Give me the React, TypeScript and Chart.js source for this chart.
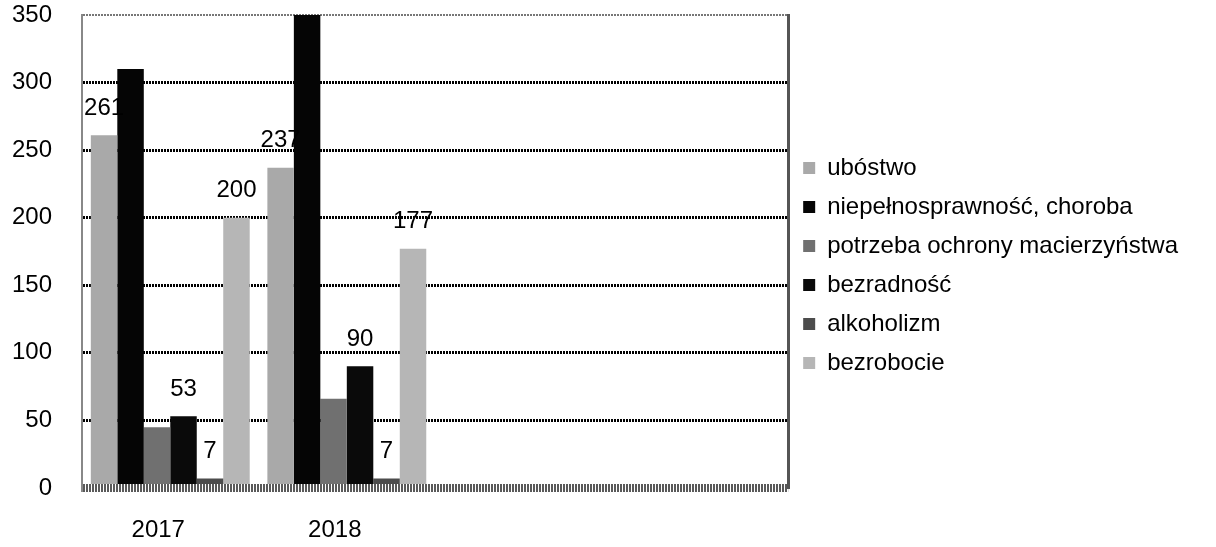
import React, { useEffect, useRef } from "react";
import { Chart, registerables } from "chart.js";

Chart.register(...registerables);

const categories = ["2017", "2018", "", ""];
const seriesNames = [
  "ubóstwo",
  "niepełnosprawność, choroba",
  "potrzeba ochrony macierzyństwa",
  "bezradność",
  "alkoholizm",
  "bezrobocie",
];
const ubostwo = [261, 237, null, null];
const niepelnosprawnosc = [310, 350, null, null];
const macierzynstwo = [45, 66, null, null];
const bezradnosc = [53, 90, null, null];
const alkoholizm = [7, 7, null, null];
const bezrobocie = [200, 177, null, null];
const seriesColors = ["#a9a9a9", "#050505", "#707070", "#0a0a0a", "#4c4c4c", "#b6b6b6"];
const labelledSeries = [true, false, false, true, true, true];
const yTicks = [0, 50, 100, 150, 200, 250, 300, 350];

const FONT = "'Liberation Sans', Arial, sans-serif";

const valueLabels = {
  id: "valueLabels",
  afterDatasetDraw(chart: any, args: any) {
    const i = args.index;
    if (!labelledSeries[i]) return;
    const ctx = chart.ctx;
    const meta = chart.getDatasetMeta(i);
    const data = chart.data.datasets[i].data;
    ctx.save();
    ctx.font = `24px ${FONT}`;
    ctx.fillStyle = "#000";
    ctx.textAlign = "center";
    ctx.textBaseline = "middle";
    meta.data.forEach((el: any, j: number) => {
      const v = data[j];
      if (v === null || v === undefined) return;
      ctx.fillText(String(v), el.x, el.y - 27);
    });
    ctx.restore();
  },
};

export default function App() {
  const ref = useRef<HTMLCanvasElement>(null);
  useEffect(() => {
    if (!ref.current) return;
    const allData = [ubostwo, niepelnosprawnosc, macierzynstwo, bezradnosc, alkoholizm, bezrobocie];
    const chart = new Chart(ref.current, {
      type: "bar",
      data: {
        labels: categories,
        datasets: seriesNames.map((name, i) => ({
          label: name,
          data: allData[i] as any,
          backgroundColor: seriesColors[i],
          borderColor: seriesColors[i],
          borderWidth: 0,
          categoryPercentage: 0.9,
          barPercentage: 1.0,
        })),
      },
      options: {
        responsive: false,
        animation: false,
        layout: { padding: { top: 15, right: 28, bottom: 2, left: 0 } },
        scales: {
          x: {
            grid: { display: false, drawTicks: false },
            border: { display: false },
            afterFit(scale: any) {
              scale.height = 57;
            },
            ticks: {
              font: { family: FONT, size: 24 },
              color: "#000",
              padding: 28,
              labelOffset: -12,
            },
          },
          y: {
            min: 0,
            max: 350,
            afterFit(scale: any) {
              scale.width = 82;
            },
            afterBuildTicks(scale: any) {
              scale.ticks = yTicks.map((v) => ({ value: v }));
            },
            ticks: {
              font: { family: FONT, size: 24 },
              color: "#000",
              padding: 0,
            },
            grid: {
              drawTicks: true,
              tickLength: 30,
              tickColor: "rgba(0,0,0,0)",
              color: (c: any) =>
                c.tick && c.tick.value === 0 ? "#5a5a5a" : c.tick && c.tick.value === 350 ? "#777" : "#000",
              lineWidth: (c: any) =>
                c.tick && c.tick.value === 0 ? 8 : c.tick && c.tick.value === 350 ? 2 : 3,
            },
            border: { display: true, color: "#888", width: 2, dash: [2, 1] },
          },
          yRight: {
            position: "right",
            min: 0,
            max: 350,
            afterFit(scale: any) {
              scale.width = 0;
            },
            ticks: { display: false },
            grid: { display: false, drawOnChartArea: false },
            border: { display: true, color: "#555", width: 3 },
          },
        },
        plugins: {
          legend: {
            position: "right",
            fullSize: false,
            maxWidth: 430,
            title: { display: true, text: " ", font: { family: FONT, size: 20 }, padding: 2 },
            labels: {
              font: { family: FONT, size: 24 },
              color: "#000",
              boxWidth: 12,
              boxHeight: 12,
              padding: 15,
            },
          },
          tooltip: { enabled: false },
        },
      },
      plugins: [valueLabels],
    });
    return () => chart.destroy();
  }, []);
  return (
    <div style={{ position: "absolute", left: 0, top: 0, width: 1216, height: 547, background: "#fff" }}>
      <canvas ref={ref} width={1216} height={547} />
    </div>
  );
}
